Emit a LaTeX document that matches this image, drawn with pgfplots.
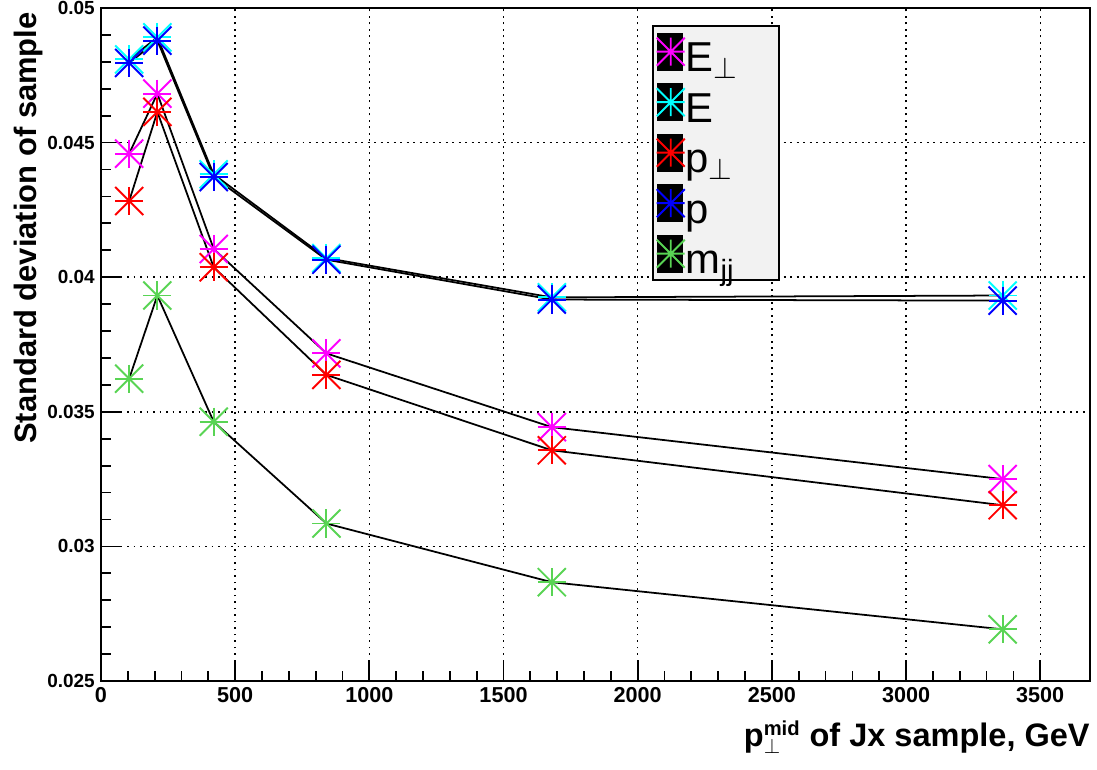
\documentclass[border=0pt]{standalone}
\usepackage{fontspec}
\setmainfont{Liberation Sans}
\usepackage{pgfplots}
\pgfplotsset{compat=1.18}
\definecolor{rmag}{RGB}{255,0,255}
\definecolor{rcyan}{RGB}{0,255,255}
\definecolor{rred}{RGB}{255,0,0}
\definecolor{rblue}{RGB}{0,0,255}
\definecolor{rgreen}{RGB}{89,212,84}
\definecolor{legfill}{HTML}{F2F2F2}

% legend symbol: black box with the coloured 8-arm star on it
\newcommand{\legimg}[1]{%
  \fill[black] (0cm,-0.36cm) rectangle (0.48cm,0.36cm);
  \draw[#1, line width=1.1pt]
    (-0.02cm,0cm) -- (0.54cm,0cm)
    (0.26cm,-0.28cm) -- (0.26cm,0.28cm)
    (-0.02cm,-0.28cm) -- (0.54cm,0.28cm)
    (-0.02cm,0.28cm) -- (0.54cm,-0.28cm);}
\newcommand{\LE}[1]{\makebox[1.8cm][l]{#1}}
\newcommand{\perpsub}{\textsubscript{\fontsize{16}{16}\selectfont$\perp$}}

\pgfplotsset{
  rootline/.style={black, line width=1pt, mark=+, mark size=8pt,
    mark options={draw=#1, line width=1.1pt, solid},
    legend image code/.code={\legimg{#1}}},
  rootx/.style={forget plot, only marks, mark=x, mark size=11.3pt,
    mark options={draw=#1, line width=1.1pt, solid}},
}

\begin{document}
\begin{tikzpicture}
\path[use as bounding box] (-2.02cm,-1.76cm) rectangle (19.92cm,13.62cm);
\begin{axis}[
    at={(0,0)}, anchor=south west,
    scale only axis,
    width=19.78cm, height=13.46cm,
    xmin=0, xmax=3685.5,
    ymin=0.025, ymax=0.05,
    xtick={0,500,1000,1500,2000,2500,3000,3500},
    ytick={0.025,0.03,0.035,0.04,0.045,0.05},
    minor x tick num=4, minor y tick num=4,
    xmajorgrids, ymajorgrids,
    grid style={black, line width=0.8pt, dash pattern=on 1.1pt off 2.6pt},
    xtick pos=left, ytick pos=left,
    tick align=inside,
    major tick length=0.42cm, minor tick length=0.2cm,
    tick style={black, line width=1pt},
    axis line style={line width=1.1pt},
    scaled y ticks=false,
    /pgf/number format/assume math mode=true,
    yticklabel style={font=\bfseries\fontsize{10.8}{12}\selectfont,
        /pgf/number format/fixed, /pgf/number format/precision=3},
    xticklabel style={font=\bfseries\fontsize{12.3}{14}\selectfont,
        /pgf/number format/1000 sep={}},
    xlabel={p$^{\mbox{\fontsize{11.5}{12}\selectfont mid}}_{\perp}$ of Jx sample, GeV},
    xlabel style={at={(axis description cs:1,-0.0966)}, anchor=base east,
        inner sep=0pt, font=\bfseries\fontsize{18.5}{20}\selectfont},
    ylabel={Standard deviation of sample},
    ylabel style={at={(axis description cs:-0.0657,0.994)}, anchor=base east,
        inner sep=0pt, font=\bfseries\fontsize{17.6}{20}\selectfont},
    legend style={at={(axis description cs:0.557,0.975)}, anchor=north west,
        fill=legfill, draw=black, line width=1pt,
        inner xsep=0.06cm, inner ysep=0.02cm, row sep=0.01cm,
        font=\fontsize{23.8}{26}\selectfont,
        nodes={inner sep=0pt, text height=0.9cm, text depth=0.1cm}},
    legend cell align=left,
]
\addplot[rootline=rmag]
  coordinates {(105,0.04459) (210,0.04682) (420,0.04105) (840,0.03717) (1680,0.03443) (3360,0.03250)};
\addplot[rootx=rmag]
  coordinates {(105,0.04459) (210,0.04682) (420,0.04105) (840,0.03717) (1680,0.03443) (3360,0.03250)};
\addplot[rootline=rcyan]
  coordinates {(105,0.04809) (210,0.04891) (420,0.04382) (840,0.04071) (1680,0.03925) (3360,0.03932)};
\addplot[rootx=rcyan]
  coordinates {(105,0.04809) (210,0.04891) (420,0.04382) (840,0.04071) (1680,0.03925) (3360,0.03932)};
\addplot[rootline=rred]
  coordinates {(105,0.04283) (210,0.04614) (420,0.04037) (840,0.03637) (1680,0.03357) (3360,0.03153)};
\addplot[rootx=rred]
  coordinates {(105,0.04283) (210,0.04614) (420,0.04037) (840,0.03637) (1680,0.03357) (3360,0.03153)};
\addplot[rootline=rblue]
  coordinates {(105,0.04796) (210,0.04879) (420,0.04372) (840,0.04065) (1680,0.03917) (3360,0.03913)};
\addplot[rootx=rblue]
  coordinates {(105,0.04796) (210,0.04879) (420,0.04372) (840,0.04065) (1680,0.03917) (3360,0.03913)};
\addplot[rootline=rgreen]
  coordinates {(105,0.03623) (210,0.03932) (420,0.03463) (840,0.03085) (1680,0.02867) (3360,0.02692)};
\addplot[rootx=rgreen]
  coordinates {(105,0.03623) (210,0.03932) (420,0.03463) (840,0.03085) (1680,0.02867) (3360,0.02692)};
\legend{\LE{E\perpsub}, \LE{E}, \LE{p\perpsub}, \LE{p}, \LE{m\textsubscript{jj}}}
\end{axis}
\end{tikzpicture}
\end{document}
